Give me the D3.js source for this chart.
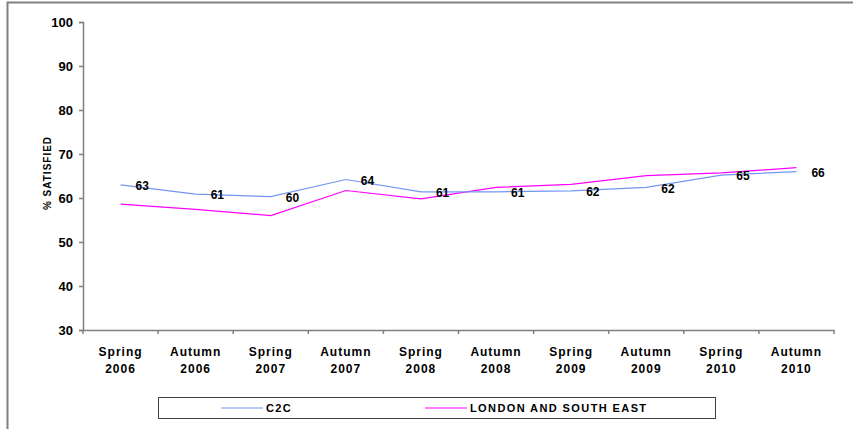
<!DOCTYPE html>
<html>
<head>
<meta charset="utf-8">
<script src="https://cdn.jsdelivr.net/npm/d3@7"></script>
<style>
  body { margin: 0; background: #fff; }
  svg text { font-family: "Liberation Sans", Arial, sans-serif; font-weight: bold; fill: #000; }
</style>
</head>
<body>
<div id="chart"></div>
<script>
//Datos
const periods = ['Spring 2006', 'Autumn 2006', 'Spring 2007', 'Autumn 2007', 'Spring 2008',
    'Autumn 2008', 'Spring 2009', 'Autumn 2009', 'Spring 2010', 'Autumn 2010'];
const c2c = [63.0, 60.9, 60.3, 64.2, 61.4, 61.4, 61.6, 62.4, 65.2, 66.0];
const londonSE = [58.6, 57.4, 56.0, 61.7, 59.8, 62.4, 63.1, 65.1, 65.7, 66.9];
const yTicks = [30, 40, 50, 60, 70, 80, 90, 100];
const seriesNames = ['C2C', 'LONDON AND SOUTH EAST'];

//Colores
const COLOR_C2C = '#7396f0',
COLOR_LSE = '#ff00ff',
COLOR_AXIS = '#808080';

let W = 853, H = 429;
let svg = d3.select('#chart').append('svg')
    .attr('width', W)
    .attr('height', H);

//Marco
svg.append('rect')
    .attr('x', 7.5).attr('y', 2.5)
    .attr('width', W).attr('height', H)
    .attr('fill', 'none')
    .attr('stroke', COLOR_AXIS)
    .attr('stroke-width', 2);

let x = d3.scaleBand()
    .domain(periods)
    .range([83, 834]);

let y = d3.scaleLinear()
    .domain([30, 100])
    .range([330, 22]);

// Eje Y
let yAxis = svg.append('g')
    .attr('transform', 'translate(83,0)')
    .call(d3.axisLeft(y).tickValues(yTicks).tickSize(4).tickPadding(6));
yAxis.select('.domain').attr('stroke', COLOR_AXIS).attr('stroke-width', 1.5);
yAxis.selectAll('.tick line').attr('stroke', COLOR_AXIS).attr('stroke-width', 1.5);
yAxis.selectAll('.tick text').style('font-size', '13px').attr('dy', '0.35em');

// Eje X
let xAxis = svg.append('g')
    .attr('transform', 'translate(0,330)')
    .call(d3.axisBottom(x).tickSize(0).tickFormat(''));
xAxis.select('.domain').attr('stroke', COLOR_AXIS).attr('stroke-width', 1.5);

//Marcas entre categorías
let bounds = periods.map(d => x(d)).concat([x.range()[1]]);
svg.append('g').selectAll('line')
    .data(bounds)
    .join('line')
    .attr('x1', d => d).attr('x2', d => d)
    .attr('y1', 330).attr('y2', 334)
    .attr('stroke', COLOR_AXIS)
    .attr('stroke-width', 1.5);

let xLabels = svg.append('g').selectAll('text')
    .data(periods)
    .join('text')
    .attr('x', d => x(d) + x.bandwidth() / 2)
    .attr('y', 356)
    .attr('text-anchor', 'middle')
    .style('font-size', '12px')
    .style('letter-spacing', '1px');
xLabels.each(function(d) {
    let parts = d.split(' ');
    d3.select(this).append('tspan').attr('x', x(d) + x.bandwidth() / 2).attr('dy', 0).text(parts[0]);
    d3.select(this).append('tspan').attr('x', x(d) + x.bandwidth() / 2).attr('dy', 17).text(parts[1]);
});

//Título eje Y
svg.append('text')
    .attr('transform', 'translate(51,173) rotate(-90)')
    .attr('text-anchor', 'middle')
    .style('font-size', '10px')
    .style('letter-spacing', '1px')
    .text('% SATISFIED');

//Líneas
let line = d3.line()
    .x((d, i) => x(periods[i]) + x.bandwidth() / 2)
    .y(d => y(d));

svg.append('path')
    .datum(londonSE)
    .attr('d', line)
    .attr('fill', 'none')
    .attr('stroke', COLOR_LSE)
    .attr('stroke-width', 1.2);

svg.append('path')
    .datum(c2c)
    .attr('d', line)
    .attr('fill', 'none')
    .attr('stroke', COLOR_C2C)
    .attr('stroke-width', 1.2);

//Etiquetas de datos
svg.append('g').selectAll('text')
    .data(c2c)
    .join('text')
    .attr('x', (d, i) => x(periods[i]) + x.bandwidth() / 2 + 15)
    .attr('y', d => y(d) + 1)
    .attr('dy', '0.35em')
    .style('font-size', '12px')
    .text(d => Math.round(d));

//Leyenda
let legend = svg.append('g');
legend.append('rect')
    .attr('x', 158.5).attr('y', 397.5)
    .attr('width', 557).attr('height', 21)
    .attr('fill', 'none')
    .attr('stroke', '#404040')
    .attr('stroke-width', 1);

let legendItems = [
    { name: seriesNames[0], color: COLOR_C2C, x0: 221 },
    { name: seriesNames[1], color: COLOR_LSE, x0: 425 }
];
legendItems.forEach(function(item) {
    legend.append('line')
        .attr('x1', item.x0).attr('x2', item.x0 + 42)
        .attr('y1', 408).attr('y2', 408)
        .attr('stroke', item.color)
        .attr('stroke-width', 1.2);
    legend.append('text')
        .attr('x', item.x0 + 45)
        .attr('y', 408)
        .attr('dy', '0.35em')
        .style('font-size', '11px')
        .style('letter-spacing', '1.4px')
        .text(item.name);
});
</script>
</body>
</html>
